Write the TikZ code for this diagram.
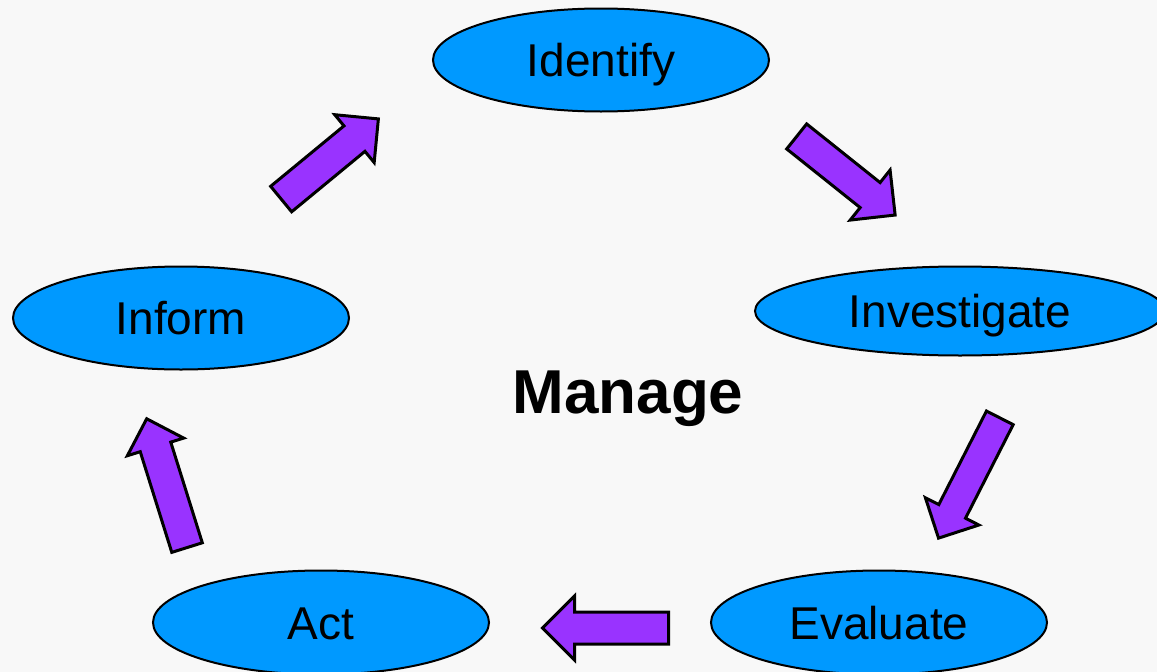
\documentclass[tikz,border=0pt]{standalone}
\usepackage{fontspec}
\setmainfont{Liberation Sans}
\usetikzlibrary{shapes.geometric,shapes.arrows}
\definecolor{stageblue}{RGB}{0,153,255}
\definecolor{flowpurple}{RGB}{153,51,255}
\definecolor{paper}{RGB}{248,248,248}

\begin{document}
\begin{tikzpicture}[x=1pt,y=-1pt,
  stage/.style={ellipse, draw=black, line width=2pt, fill=stageblue,
    inner sep=0pt, minimum width=336pt, minimum height=103pt,
    font=\fontsize{46}{50}\selectfont, text height=33pt, text depth=0pt},
  flow/.style={single arrow, draw=black, line width=3pt, fill=flowpurple,
    inner xsep=0pt, text height=0pt, text depth=0pt, minimum width=0pt,
    anchor=tail},
  hub/.style={font=\bfseries\fontsize{62}{66}\selectfont, text height=44.5pt,
    text depth=0pt, inner sep=0pt}]

  % canvas
  \fill[paper] (0,0) rectangle (1157,672);
  \useasboundingbox (0,0) rectangle (1157,672);

  % the five stages of the cycle
  \node[stage] (identify)    at (601,60)  {Identify};
  \node[stage, minimum width=410pt, minimum height=89pt]
               (investigate) at (960,311) {Investigate};
  \node[stage, minimum width=336pt, minimum height=104pt]
               (evaluate)    at (879,622.5) {Evaluate};
  \node[stage, minimum height=104pt] (act) at (321,622.5) {Act};
  \node[stage] (inform)      at (181,318) {Inform};

  % centre label
  \node[hub] (manage) at (628,391) {Manage};

  % block arrows leading from one stage to the next
  \node[flow, rotate=39.5, inner ysep=15pt, single arrow head extend=14.5pt,
        minimum height=126pt] (inform-identify) at (280,200) {};
  \node[flow, rotate=-38.6, inner ysep=14.5pt, single arrow head extend=16pt,
        minimum height=126pt] (identify-investigate) at (795.5,135.5) {};
  \node[flow, rotate=-117, inner ysep=13.5pt, single arrow head extend=15pt,
        minimum height=135pt] (investigate-evaluate) at (1000.5,416.5) {};
  \node[flow, rotate=180, inner ysep=14.5pt, single arrow head extend=16pt,
        minimum height=126pt] (evaluate-act) at (670,628) {};
  \node[flow, rotate=107.4, inner ysep=14.5pt, single arrow head extend=13.5pt,
        minimum height=135pt] (act-inform) at (187.5,549) {};
\end{tikzpicture}
\end{document}
